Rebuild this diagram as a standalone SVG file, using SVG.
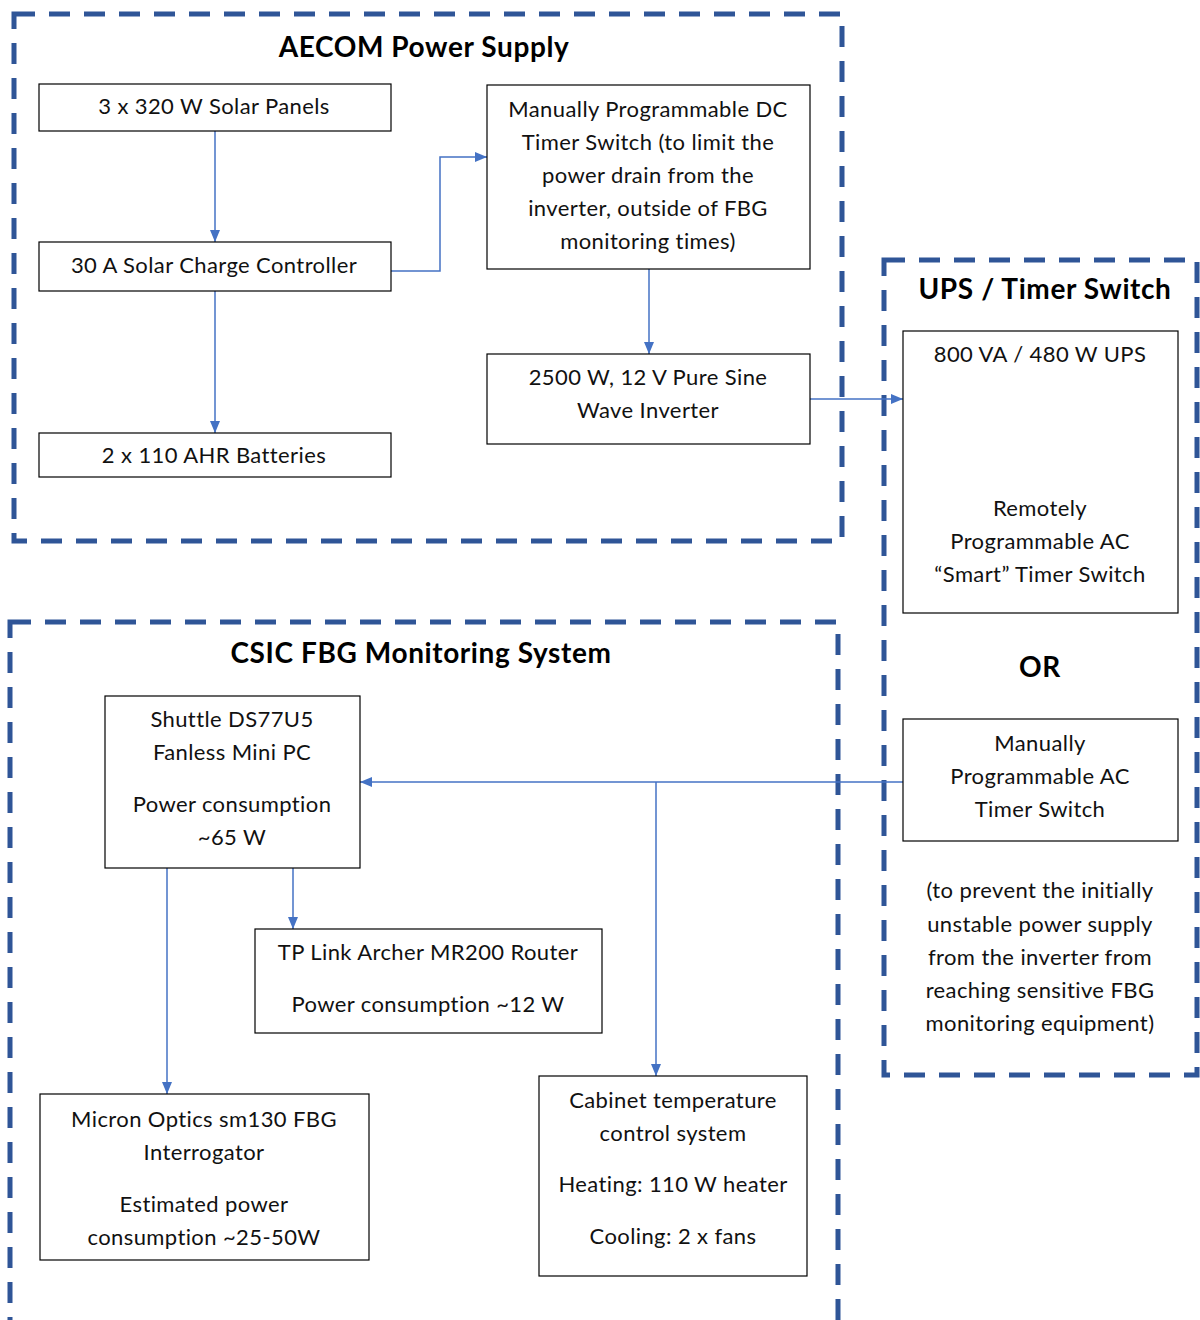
<svg xmlns="http://www.w3.org/2000/svg" width="1200" height="1320" viewBox="0 0 1200 1320">
  <style>
    .zone { fill: none; stroke: #2F5597; stroke-width: 5; stroke-dasharray: 21 14; }
    .box { fill: #FFFFFF; stroke: #000000; stroke-width: 1.2; }
    .t { font-family: Lato, "Open Sans", sans-serif; font-size: 22px; letter-spacing: 0.4px; fill: #111111; text-anchor: middle; }
    .h { font-family: Lato, "Open Sans", sans-serif; font-size: 28px; letter-spacing: 0.6px; font-weight: bold; fill: #000000; text-anchor: middle; }
    .wire { fill: none; stroke: #4472C4; stroke-width: 1.5; }
  </style>
  <defs>
    <marker id="arr" viewBox="0 0 12 10" refX="12" refY="5" markerWidth="12" markerHeight="10" markerUnits="userSpaceOnUse" orient="auto">
      <path d="M0,0 L12,5 L0,10 Z" fill="#4472C4"/>
    </marker>
  </defs>
  <rect width="1200" height="1320" fill="#FFFFFF"/>

  <!-- dashed zones -->
  <g id="zones">
    <rect class="zone" x="14" y="14" width="828" height="527"/>
    <rect class="zone" x="884" y="260" width="313" height="815"/>
    <rect class="zone" x="10" y="622" width="828" height="720"/>
    <text class="h" x="424" y="57">AECOM Power Supply</text>
    <text class="h" x="1045" y="299">UPS / Timer Switch</text>
    <text class="h" x="421" y="663">CSIC FBG Monitoring System</text>
    <text class="h" x="1040" y="677">OR</text>
  </g>

  <!-- connectors -->
  <g id="connectors">
    <line class="wire" x1="215" y1="131" x2="215" y2="242" marker-end="url(#arr)"/>
    <line class="wire" x1="215" y1="291" x2="215" y2="433" marker-end="url(#arr)"/>
    <polyline class="wire" points="391,271 440,271 440,157 487,157" marker-end="url(#arr)"/>
    <line class="wire" x1="649" y1="269" x2="649" y2="354" marker-end="url(#arr)"/>
    <line class="wire" x1="810" y1="399" x2="903" y2="399" marker-end="url(#arr)"/>
    <line class="wire" x1="1040" y1="380" x2="1040" y2="476" marker-end="url(#arr)"/>
    <line class="wire" x1="903" y1="782" x2="360" y2="782" marker-end="url(#arr)"/>
    <line class="wire" x1="656" y1="782" x2="656" y2="1076" marker-end="url(#arr)"/>
    <line class="wire" x1="293" y1="868" x2="293" y2="929" marker-end="url(#arr)"/>
    <line class="wire" x1="167" y1="868" x2="167" y2="1094" marker-end="url(#arr)"/>
  </g>

  <g id="solar-panels">
    <rect class="box" x="39" y="84" width="352" height="47"/>
    <text class="t" x="214" y="114">3 x 320 W Solar Panels</text>
  </g>
  <g id="charge-controller">
    <rect class="box" x="39" y="242" width="352" height="49"/>
    <text class="t" x="214" y="273">30 A Solar Charge Controller</text>
  </g>
  <g id="batteries">
    <rect class="box" x="39" y="433" width="352" height="44"/>
    <text class="t" x="214" y="463">2 x 110 AHR Batteries</text>
  </g>
  <g id="dc-timer">
    <rect class="box" x="487" y="85" width="323" height="184"/>
    <text class="t" x="648" y="117">Manually Programmable DC</text>
    <text class="t" x="648" y="150">Timer Switch (to limit the</text>
    <text class="t" x="648" y="183">power drain from the</text>
    <text class="t" x="648" y="216">inverter, outside of FBG</text>
    <text class="t" x="648" y="249">monitoring times)</text>
  </g>
  <g id="inverter">
    <rect class="box" x="487" y="354" width="323" height="90"/>
    <text class="t" x="648" y="385">2500 W, 12 V Pure Sine</text>
    <text class="t" x="648" y="418">Wave Inverter</text>
  </g>
  <g id="ups">
    <rect class="box" x="903" y="331" width="275" height="282"/>
    <text class="t" x="1040" y="362">800 VA / 480 W UPS</text>
    <text class="t" x="1040" y="516">Remotely</text>
    <text class="t" x="1040" y="549">Programmable AC</text>
    <text class="t" x="1040" y="582">“Smart” Timer Switch</text>
  </g>
  <g id="manual-ac-timer">
    <rect class="box" x="903" y="719" width="275" height="122"/>
    <text class="t" x="1040" y="751">Manually</text>
    <text class="t" x="1040" y="784">Programmable AC</text>
    <text class="t" x="1040" y="817">Timer Switch</text>
  </g>
  <g id="note">
    <text class="t" x="1040" y="898">(to prevent the initially</text>
    <text class="t" x="1040" y="932">unstable power supply</text>
    <text class="t" x="1040" y="965">from the inverter from</text>
    <text class="t" x="1040" y="998">reaching sensitive FBG</text>
    <text class="t" x="1040" y="1031">monitoring equipment)</text>
  </g>
  <g id="mini-pc">
    <rect class="box" x="105" y="696" width="255" height="172"/>
    <text class="t" x="232" y="727">Shuttle DS77U5</text>
    <text class="t" x="232" y="760">Fanless Mini PC</text>
    <text class="t" x="232" y="812">Power consumption</text>
    <text class="t" x="232" y="845">~65 W</text>
  </g>
  <g id="router">
    <rect class="box" x="255" y="929" width="347" height="104"/>
    <text class="t" x="428" y="960">TP Link Archer MR200 Router</text>
    <text class="t" x="428" y="1012">Power consumption ~12 W</text>
  </g>
  <g id="interrogator">
    <rect class="box" x="40" y="1094" width="329" height="166"/>
    <text class="t" x="204" y="1127">Micron Optics sm130 FBG</text>
    <text class="t" x="204" y="1160">Interrogator</text>
    <text class="t" x="204" y="1212">Estimated power</text>
    <text class="t" x="204" y="1245">consumption ~25-50W</text>
  </g>
  <g id="cabinet">
    <rect class="box" x="539" y="1076" width="268" height="200"/>
    <text class="t" x="673" y="1108">Cabinet temperature</text>
    <text class="t" x="673" y="1141">control system</text>
    <text class="t" x="673" y="1192">Heating: 110 W heater</text>
    <text class="t" x="673" y="1244">Cooling: 2 x fans</text>
  </g>
</svg>
